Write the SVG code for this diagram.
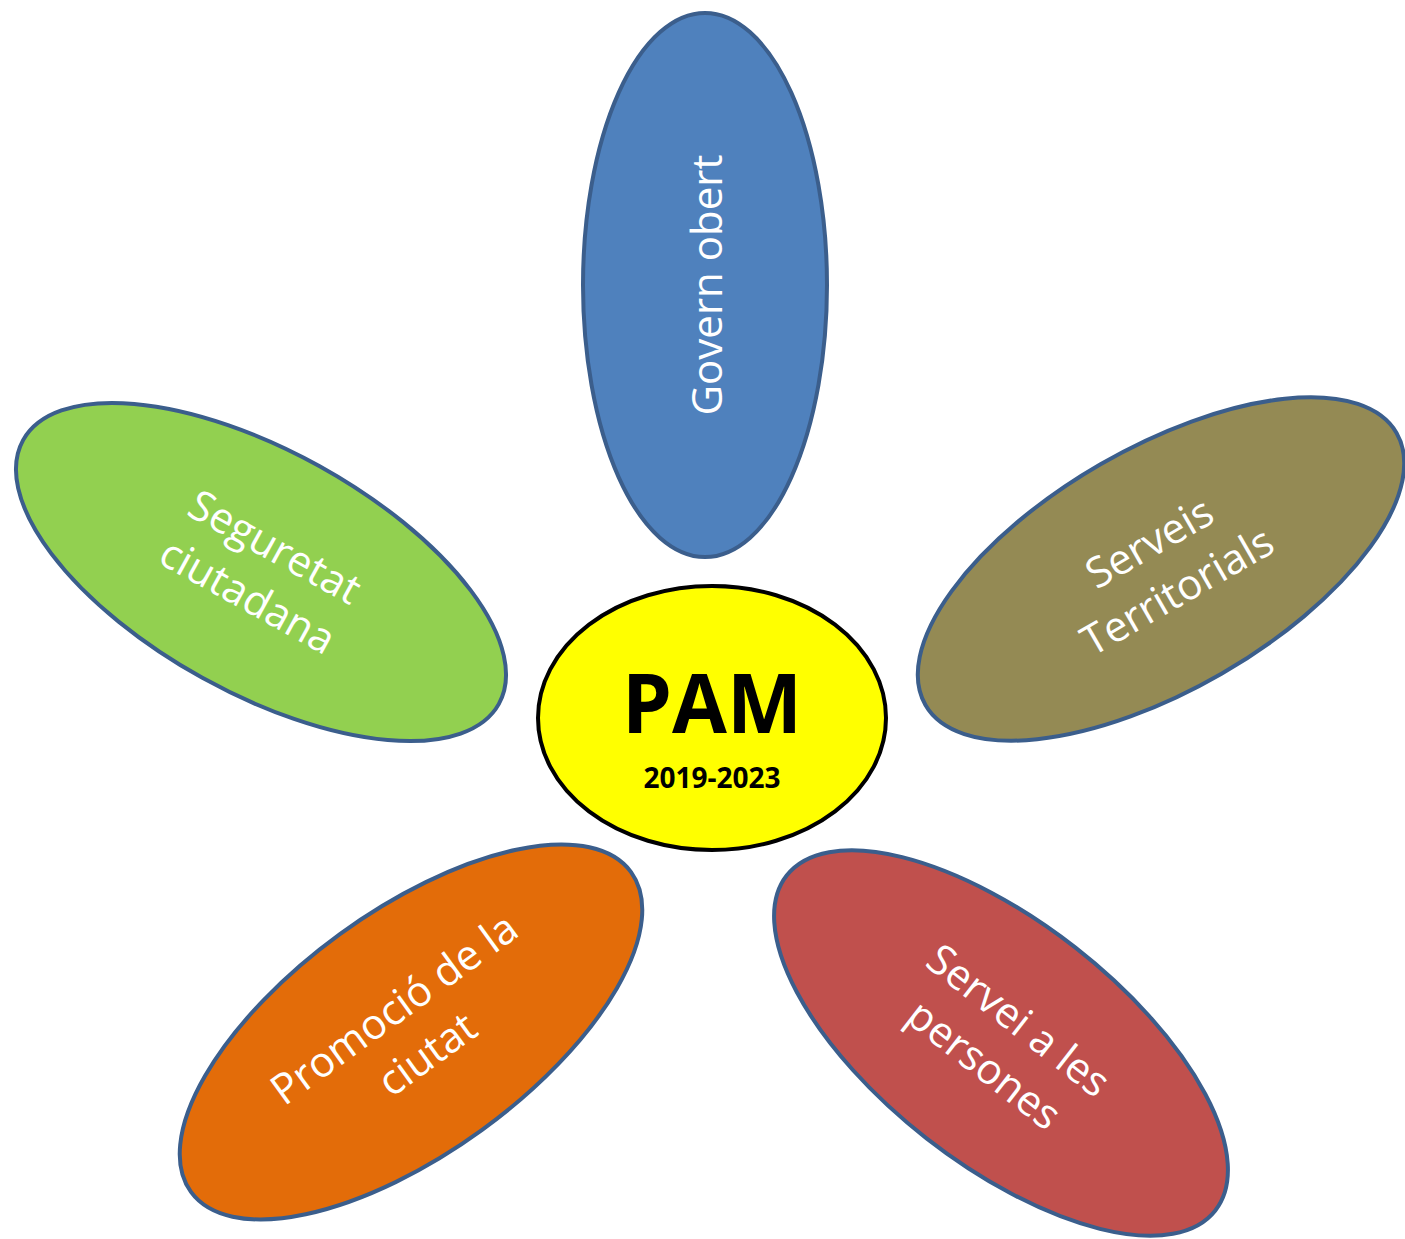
<svg xmlns="http://www.w3.org/2000/svg" width="1405" height="1239" viewBox="0 0 1405 1239">
<style>
.petal{stroke:#3B5E8C;stroke-width:4}
.lbl{font-family:"Open Sans","Noto Sans",sans-serif;font-size:42px;fill:#FFFFFF;text-anchor:middle}
.ctr{font-family:"Open Sans","Noto Sans",sans-serif;font-weight:bold;fill:#000000;text-anchor:middle}
</style>
<rect width="1405" height="1239" fill="#FFFFFF"/>
<g id="connectors"></g>
<g id="govern-obert" transform="translate(705,285)">
<ellipse class="petal" cx="0" cy="0" rx="122" ry="272" fill="#4F81BD"/>
<text class="lbl" transform="rotate(-90)" x="0" y="17">Govern obert</text>
</g>
<g id="serveis-territorials" transform="translate(1161,569) rotate(-30)">
<ellipse class="petal" cx="0" cy="0" rx="272" ry="121" fill="#948A54"/>
<text class="lbl" x="3" y="-14">Serveis</text>
<text class="lbl" x="3" y="42">Territorials</text>
</g>
<g id="seguretat-ciutadana" transform="translate(261,572) rotate(29)">
<ellipse class="petal" cx="0" cy="0" rx="272" ry="121" fill="#92D050"/>
<text class="lbl" x="0" y="-14">Seguretat</text>
<text class="lbl" x="0" y="42">ciutadana</text>
</g>
<g id="servei-persones" transform="translate(1001,1043) rotate(38)">
<ellipse class="petal" cx="0" cy="0" rx="272" ry="121" fill="#C0504D"/>
<text class="lbl" x="0" y="-14">Servei a les</text>
<text class="lbl" x="0" y="42">persones</text>
</g>
<g id="promocio-ciutat" transform="translate(411,1032) rotate(-36)">
<ellipse class="petal" cx="0" cy="0" rx="272" ry="121" fill="#E36C09"/>
<text class="lbl" x="0" y="-14">Promoció de la</text>
<text class="lbl" x="0" y="42">ciutat</text>
</g>
<g id="pam">
<ellipse cx="712" cy="718" rx="174" ry="132" fill="#FFFF00" stroke="#000000" stroke-width="4"/>
<text class="ctr" x="712" y="733" font-size="83" textLength="180" lengthAdjust="spacingAndGlyphs">PAM</text>
<text class="ctr" x="712" y="788" font-size="28">2019-2023</text>
</g>
</svg>
